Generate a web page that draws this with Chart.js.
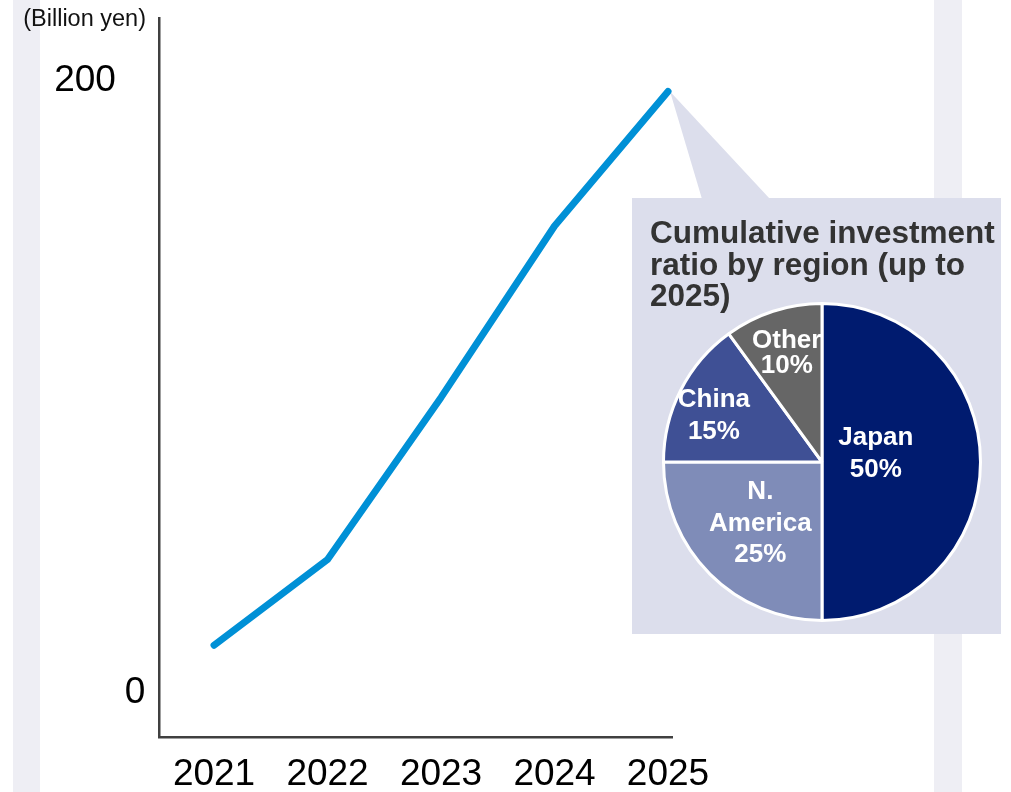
<!DOCTYPE html>
<html>
<head>
<meta charset="utf-8">
<script src="https://cdn.jsdelivr.net/npm/chart.js@4.4.1/dist/chart.umd.min.js"></script>
<style>
  html, body { margin: 0; padding: 0; background: #fff; }
  #page { position: relative; width: 1011px; height: 792px; overflow: hidden; font-family: "Liberation Sans", Arial, sans-serif; }
  .stripe { position: absolute; top: 0; height: 792px; background: #eeeef4; }
  #lineChart { position: absolute; left: 0; top: 0; }
  #pieChart { position: absolute; left: 662px; top: 302px; }
  #pieTitle { position: absolute; left: 650px; top: 217px; font-weight: bold; font-size: 31.5px; line-height: 31.5px; color: #333; white-space: nowrap; }
</style>
</head>
<body>
<div id="page">
  <div class="stripe" style="left:13px;width:27px;"></div>
  <div class="stripe" style="left:934px;width:28px;"></div>
  <canvas id="lineChart" width="1011" height="792"></canvas>
  <canvas id="pieChart" width="320" height="320"></canvas>
  <div id="pieTitle">Cumulative investment<br>ratio by region (up to<br>2025)</div>
</div>
<script>
// --- Data ---
const years = [2021, 2022, 2023, 2024, 2025];
const investment = [15, 43, 96, 152, 196];   // billion yen
const yTickValues = [0, 200];

const regions = ['Japan', 'N. America', 'China', 'Other'];
const regionShares = [50, 25, 15, 10];        // percent, cumulative up to 2025
const regionNameLines = [['Japan'], ['N.', 'America'], ['China'], ['Other']];

// --- Styling ---
const FONT = '"Liberation Sans", Arial, sans-serif';
const lineBlue = '#0090d6';
const axisGrey = '#404040';
const panelColor = '#dcdeec';
const sliceColors = ['#001b6f', '#7f8cb8', '#3f5095', '#666666'];

// Panel that holds the pie, with a pointer back to the last point of the line
const panel = { x: 632, y: 198, w: 369, h: 436, tipLeft: 702, tipRight: 770 };

const calloutPlugin = {
    id: 'callout',
    beforeDatasetsDraw(chart) {
        const ctx = chart.ctx;
        const last = chart.getDatasetMeta(0).data[years.length - 1];
        ctx.save();
        ctx.fillStyle = panelColor;
        ctx.beginPath();
        ctx.moveTo(last.x + 2, last.y);
        ctx.lineTo(panel.tipRight, panel.y + 1);
        ctx.lineTo(panel.tipLeft, panel.y + 1);
        ctx.closePath();
        ctx.fill();
        ctx.fillRect(panel.x, panel.y, panel.w, panel.h);
        ctx.restore();
    },
    afterDraw(chart) {
        const ctx = chart.ctx;
        const yScale = chart.scales.y;
        const labelCenters = [135, 85]; // x centre of each y tick label
        ctx.save();
        ctx.fillStyle = '#000';
        ctx.font = '37px ' + FONT;
        ctx.textAlign = 'center';
        ctx.textBaseline = 'middle';
        yTickValues.forEach((v, i) => {
            ctx.fillText(String(v), labelCenters[i], yScale.getPixelForValue(v) + 2);
        });
        // unit label above the y axis
        ctx.font = '23.5px ' + FONT;
        ctx.textAlign = 'right';
        ctx.textBaseline = 'alphabetic';
        ctx.fillStyle = '#111';
        ctx.fillText('(Billion yen)', 146, 26);
        ctx.restore();
    }
};

new Chart(document.getElementById('lineChart'), {
    type: 'line',
    data: {
        datasets: [{
            label: 'Investment',
            data: years.map((yr, i) => ({ x: yr, y: investment[i] })),
            borderColor: lineBlue,
            borderWidth: 7,
            borderCapStyle: 'round',
            borderJoinStyle: 'round',
            pointRadius: 0,
            tension: 0,
            clip: false
        }]
    },
    options: {
        responsive: false,
        animation: false,
        events: [],
        layout: { padding: { left: 0, right: 339, top: 18, bottom: 0 } },
        plugins: { legend: { display: false }, tooltip: { enabled: false } },
        scales: {
            x: {
                type: 'linear',
                min: 2020.515,
                max: 2025.035,
                afterBuildTicks: s => { s.ticks = years.map(v => ({ value: v })); },
                afterFit: s => { s.height = 55; },
                grid: { display: false },
                border: { display: true, color: axisGrey, width: 2.5 },
                ticks: {
                    font: { family: FONT, size: 37 },
                    color: '#000',
                    padding: 8,
                    maxRotation: 0,
                    autoSkip: false,
                    callback: v => String(v)
                }
            },
            y: {
                min: -15,
                max: 220,
                afterBuildTicks: s => { s.ticks = yTickValues.map(v => ({ value: v })); },
                afterFit: s => { s.width = 159; },
                grid: { display: false },
                border: { display: true, color: axisGrey, width: 2.5 },
                ticks: { display: false }
            }
        }
    },
    plugins: [calloutPlugin]
});

// --- Pie: share of cumulative investment by region ---
const labelRadius = [0.34, 0.55, 0.73, 0.72];
const labelShift = [[0, -8], [0, 0], [-5, 6], [0, 0]];
const labelLineHeight = [32, 31.5, 32, 25];

const sliceLabelPlugin = {
    id: 'sliceLabels',
    afterDatasetsDraw(chart) {
        const ctx = chart.ctx;
        const arcs = chart.getDatasetMeta(0).data;
        ctx.save();
        ctx.fillStyle = '#fff';
        ctx.font = 'bold 26px ' + FONT;
        ctx.textAlign = 'center';
        ctx.textBaseline = 'middle';
        arcs.forEach((arc, i) => {
            const p = arc.getProps(['x', 'y', 'startAngle', 'endAngle', 'outerRadius'], true);
            const mid = (p.startAngle + p.endAngle) / 2;
            const r = p.outerRadius * labelRadius[i];
            const cx = p.x + Math.cos(mid) * r + labelShift[i][0];
            const cy = p.y + Math.sin(mid) * r + labelShift[i][1];
            const lines = regionNameLines[i].concat([regionShares[i] + '%']);
            const lh = labelLineHeight[i];
            const top = cy - (lines.length - 1) * lh / 2;
            lines.forEach((t, j) => ctx.fillText(t, cx, top + j * lh));
        });
        ctx.restore();
    }
};

new Chart(document.getElementById('pieChart'), {
    type: 'pie',
    data: {
        labels: regions,
        datasets: [{
            data: regionShares,
            backgroundColor: sliceColors,
            borderColor: '#ffffff',
            borderWidth: 3
        }]
    },
    options: {
        responsive: false,
        animation: false,
        events: [],
        layout: { padding: 0 },
        plugins: { legend: { display: false }, tooltip: { enabled: false } }
    },
    plugins: [sliceLabelPlugin]
});
</script>
</body>
</html>
